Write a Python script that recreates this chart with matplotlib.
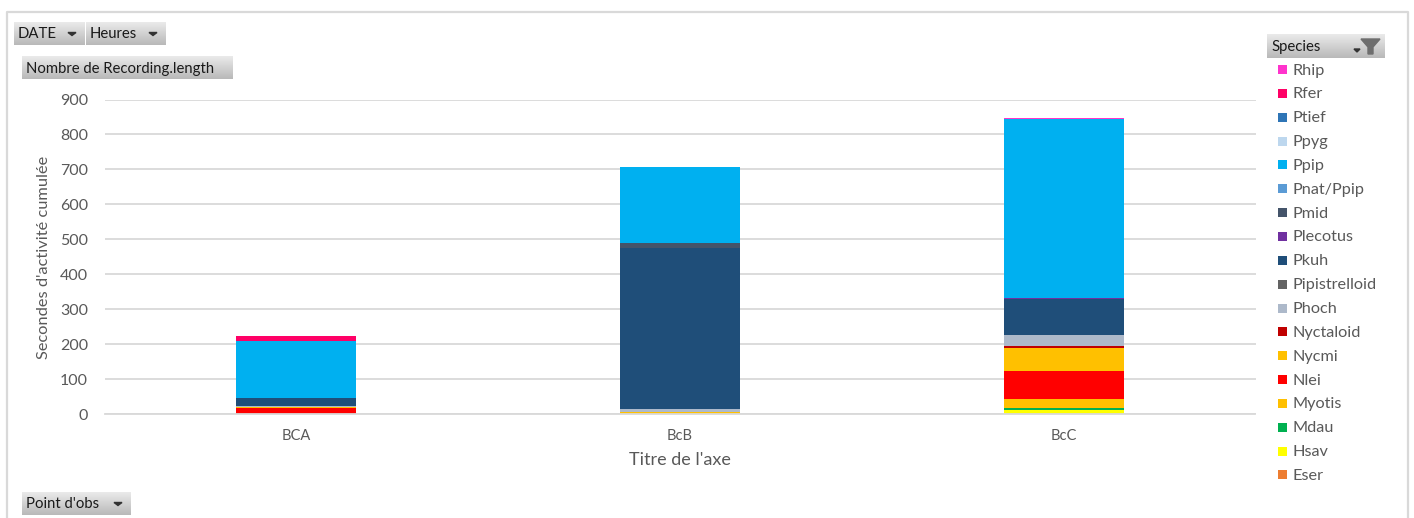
# -*- coding: utf-8 -*-
# stacked pivot chart: cumulated activity per observation point and species
import numpy as np
import matplotlib
matplotlib.use('Agg')
import matplotlib.pyplot as plt
from matplotlib.patches import Rectangle, Polygon

plt.rcParams['font.family'] = ['Lato', 'DejaVu Sans']

W, H = 1414, 518

points = ['BCA', 'BcB', 'BcC']
yticks = [0, 100, 200, 300, 400, 500, 600, 700, 800, 900]

# bottom to top of the stack
species = ['Eser', 'Hsav', 'Mdau', 'Myotis', 'Nlei', 'Nycmi', 'Nyctaloid', 'Phoch', 'Pipistrelloid',
           'Pkuh', 'Plecotus', 'Pmid', 'Pnat/Ppip', 'Ppip', 'Ppyg', 'Ptief', 'Rfer', 'Rhip']
colors = ['#ED7D31', '#FFFF00', '#00B050', '#FFC000', '#FF0000', '#FFC000', '#C00000', '#ADB9CA', '#636363',
          '#1F4E79', '#7030A0', '#44546A', '#5B9BD5', '#00B0F0', '#BDD7EE', '#2E75B6', '#FF0066', '#FF33CC']

eser = [0, 0, 0]
hsav = [0, 0, 11]
mdau = [0, 0, 5]
myotis = [0, 7, 28]
nlei = [16, 0, 78]
nycmi = [4, 0, 67]
nyctaloid = [0, 0, 7]
phoch = [3, 7, 29]
pipistrelloid = [0, 0, 0]
pkuh = [23, 462, 103]
plecotus = [0, 0, 3]
pmid = [0, 13, 0]
pnat_ppip = [0, 0, 0]
ppip = [163, 218, 513]
ppyg = [0, 0, 0]
ptief = [0, 0, 0]
rfer = [14, 0, 0]
rhip = [0, 0, 3]

series = [eser, hsav, mdau, myotis, nlei, nycmi, nyctaloid, phoch, pipistrelloid,
          pkuh, plecotus, pmid, pnat_ppip, ppip, ppyg, ptief, rfer, rhip]

text_col = '#595959'
grid_col = '#D9D9D9'

fig = plt.figure(figsize=(W / 100, H / 100), dpi=100, facecolor='white')

# main chart
ax = fig.add_axes([104.5 / W, 1 - 414 / H, (1255.5 - 104.5) / W, (414 - 99.5) / H])
x = np.arange(len(points))
bottom = np.zeros(len(points))
for name, col, vals in zip(species, colors, series):
    ax.bar(x, vals, 0.3125, bottom=bottom, color=col, label=name, zorder=3)
    bottom = bottom + np.array(vals)

ax.set_xlim(-0.5, 2.5)
ax.set_ylim(0, 900)
ax.set_xticks(x)
ax.set_xticklabels(points, color=text_col, fontsize=10.5)
ax.set_yticks(yticks)
ax.tick_params(axis='y', length=0, pad=12, labelsize=11.5, labelcolor=text_col)
ax.tick_params(axis='x', length=0, pad=11)
ax.grid(axis='y', color=grid_col, linewidth=1.3, zorder=0)
ax.set_axisbelow(True)
for s in ['top', 'left', 'right']:
    ax.spines[s].set_visible(False)
ax.spines['bottom'].set_color(grid_col)
ax.spines['bottom'].set_linewidth(1.3)
ax.spines['bottom'].set_zorder(4)

# everything around the chart, in pixel coordinates
ov = fig.add_axes([0, 0, 1, 1], facecolor='none')
ov.set_xlim(0, W)
ov.set_ylim(H, 0)
ov.axis('off')

ov.text(44, 257, "Secondes d'activité cumulée", rotation=90, ha='center', va='center',
        color=text_col, fontsize=11.8)
ov.text(680, 460, "Titre de l'axe", ha='center', va='center', color=text_col, fontsize=13)

# frame of the pivot chart
ov.plot([6.5, 6.5, 1408, 1408], [H, 11.5, 11.5, H], color='#D9D9D9', linewidth=1.6)

gradient = np.linspace(0, 1, 32).reshape(-1, 1)
button_cmap = matplotlib.colors.LinearSegmentedColormap.from_list('btn', ['#EAEAEA', '#B9B9B9'])


def button(x0, x1, y0, y1, label, arrow_x=None):
    ov.imshow(gradient, extent=[x0, x1, y1, y0], cmap=button_cmap, aspect='auto', zorder=2)
    ym = (y0 + y1) / 2
    ov.text(x0 + 4, ym + 1, label, ha='left', va='center', color='#1A1A1A', fontsize=10.7, zorder=3)
    if arrow_x is not None:
        ov.add_patch(Polygon([[arrow_x - 4, ym - 1], [arrow_x + 4, ym - 1], [arrow_x, ym + 2]],
                             color='#333333', zorder=3))


button(14, 85, 22, 45, 'DATE', 72)
button(86, 166, 22, 45, 'Heures', 153)
button(22, 233, 56, 79, 'Nombre de Recording.length')
button(22, 131, 492, 515, "Point d'obs", 118)
button(1267, 1385, 34, 58, 'Species')

# small arrow and filter icon on the species button
ov.add_patch(Polygon([[1354, 49], [1360, 49], [1357, 52]], color='#333333', zorder=3))
ov.add_patch(Polygon([[1361, 39], [1380, 39], [1373, 47], [1373, 54], [1368, 54], [1368, 47]],
                     color='#6E6E6E', zorder=3))

# legend, top of the stack first
for i, (name, col) in enumerate(zip(species[::-1], colors[::-1])):
    y = 69.5 + i * 23.85
    ov.add_patch(Rectangle((1278, y - 4.5), 9, 9, facecolor=col, edgecolor='none', zorder=3))
    ov.text(1293, y + 1, name, ha='left', va='center', color=text_col, fontsize=11.7)

ov.set_xlim(0, W)
ov.set_ylim(H, 0)

fig.savefig('out.png', dpi=100)
